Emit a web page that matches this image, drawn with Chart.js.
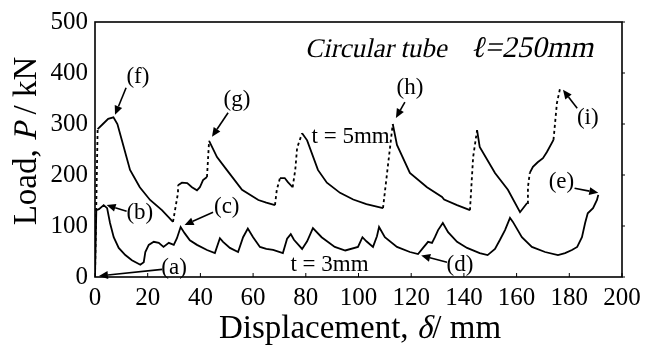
<!DOCTYPE html>
<html>
<head>
  <title>Circular tube load-displacement</title>
  <script src="https://cdn.jsdelivr.net/npm/chart.js"></script>
  <style>
    html, body { margin: 0; padding: 0; background: #fff; }
    #wrap { width: 649px; height: 347px; }
  </style>
</head>
<body>
  <div id="wrap"><canvas id="crushChart" width="649" height="347"></canvas></div>
  <script>
    // t = 5mm curve (displacement mm, load kN)
    const disp5 = [0, 1, 3, 5, 7, 8.5, 10.2, 13.3, 17, 20.9, 25.4, 29.6, 31.5, 31.5, 33, 35, 36.8, 38.7, 39.8, 41, 42.5,
      43.3, 46.3, 50, 55.8, 62, 65, 68.3, 69, 70.2, 72, 73.2, 75, 76, 76.7, 78.6, 80.5, 84.6, 88, 93, 98, 103, 109.3,
      113, 114.6, 119.5, 126, 131.7, 132.5, 137.4, 142.3, 143.5, 145, 146, 151.8, 156.7, 161.3, 164, 164.3, 165,
      166.2, 168, 170, 171.5, 174, 174.6, 175.3, 176.5];
    const load5 = [0, 290, 300, 310, 313, 300, 268, 210, 176, 151, 131, 108, 165, 180, 185, 184, 176, 170, 176, 190, 196,
      267, 235, 210, 171, 151, 146, 141, 171, 194, 194, 186, 176, 210, 253, 282, 268, 210, 185, 165, 152, 143, 135,
      300, 259, 204, 176, 157, 152, 141, 131, 235, 288, 255, 204, 171, 127, 145, 176, 204,
      216, 225, 233, 245, 269, 302, 341, 370];

    // t = 3mm curve
    const disp3 = [0, 0.5, 1.5, 3.3, 4.6, 5.7, 7.1, 9, 11.5, 14, 17.2, 18.5, 19.1, 20.4, 22.3, 24.2, 26, 28, 29.9, 31.1,
      32.5, 34, 36, 38.7, 42.5, 45.5, 47.4, 48.6, 51.2, 54.3, 56.2, 58, 60, 62.6, 65, 67.6, 71.3, 72.9, 74.3, 75.5, 78.6,
      80.5, 82.7, 86, 91, 95, 99.8, 101.5, 103, 105.5, 107, 107.8, 110, 114.6, 119.5, 122.6, 124.5, 126.4, 127.9,
      129, 130.2, 132, 134, 137.4, 141.2, 146, 149, 151.8, 153.7, 155.6, 157.5, 158.6, 162, 165.8, 170.8, 175.7,
      178.4, 181, 183, 184.8, 186, 187, 189, 190.5, 191];
    const load3 = [0, 131, 133, 141, 135, 106, 78, 57, 43, 33, 24, 29, 49, 63, 69, 67, 59, 67, 63, 76,
      98, 86, 72, 63, 53, 47, 76, 69, 57, 49, 78, 95, 78, 59, 55, 53, 47, 75, 84, 73, 55,
      70, 96, 78, 59, 52, 59, 78, 70, 59, 80, 98, 78, 59, 49, 45, 57, 69, 67,
      78, 92, 106, 88, 69, 57, 47, 43, 55, 73, 92, 116, 108, 78, 59, 49, 43,
      47, 53, 59, 78, 106, 125, 135, 151, 161];

    const xTicks = [0, 20, 40, 60, 80, 100, 120, 140, 160, 180, 200];
    const yTicks = [0, 100, 200, 300, 400, 500];

    // labels with arrows: label centre, arrow start, arrow tip (data units)
    const notes = [
      { t: '(a)', lx: 30, ly: 18, fx: 25.5, fy: 15, tx: 1.5, ty: 2 },
      { t: '(b)', lx: 17, ly: 125, fx: 12, fy: 129, tx: 4.4, ty: 141 },
      { t: '(c)', lx: 50, ly: 137, fx: 44.8, fy: 127, tx: 34, ty: 102 },
      { t: '(d)', lx: 138.5, ly: 24, fx: 133.6, fy: 29, tx: 123.8, ty: 42 },
      { t: '(e)', lx: 177, ly: 186, fx: 182, fy: 174, tx: 191, ty: 165 },
      { t: '(f)', lx: 16.3, ly: 392, fx: 11.8, fy: 371, tx: 7.6, ty: 318 },
      { t: '(g)', lx: 53.9, ly: 347, fx: 50.5, fy: 322, tx: 44.4, ty: 275 },
      { t: '(h)', lx: 119.5, ly: 370, fx: 117.6, fy: 343, tx: 114.2, ty: 312 },
      { t: '(i)', lx: 187, ly: 312, fx: 183, fy: 331, tx: 177.6, ty: 367 }
    ];

    const SERIF = '"Liberation Serif", "Times New Roman", serif';
    const SLANT = -0.22;

    function toPoints(xs, ys) {
      return xs.map((x, i) => ({ x: x, y: ys[i] }));
    }

    // italic is faked with a skew so the serif face is kept
    function slanted(ctx, text, x, y) {
      ctx.save();
      ctx.translate(x, y);
      ctx.transform(1, 0, SLANT, 1, 0, 0);
      ctx.fillText(text, 0, 0);
      ctx.restore();
    }

    // runs: [text, size, italic]
    function runsWidth(ctx, runs) {
      let w = 0;
      runs.forEach(r => { ctx.font = r[1] + 'px ' + SERIF; w += ctx.measureText(r[0]).width; });
      return w;
    }
    function drawRuns(ctx, runs, x, y) {
      let cx = x;
      runs.forEach(r => {
        ctx.font = r[1] + 'px ' + SERIF;
        if (r[2]) slanted(ctx, r[0], cx, y); else ctx.fillText(r[0], cx, y);
        cx += ctx.measureText(r[0]).width;
      });
    }

    function arrow(ctx, x1, y1, x2, y2) {
      const a = Math.atan2(y2 - y1, x2 - x1);
      const hl = 9, hw = 4;
      const bx = x2 - hl * Math.cos(a), by = y2 - hl * Math.sin(a);
      ctx.beginPath();
      ctx.moveTo(x1, y1);
      ctx.lineTo(bx, by);
      ctx.stroke();
      ctx.beginPath();
      ctx.moveTo(x2, y2);
      ctx.lineTo(bx + hw * Math.sin(a), by - hw * Math.cos(a));
      ctx.lineTo(bx - hw * Math.sin(a), by + hw * Math.cos(a));
      ctx.closePath();
      ctx.fill();
    }

    const decor = {
      id: 'decor',
      afterDraw(chart) {
        const c = chart.ctx, a = chart.chartArea;
        const xs = chart.scales.x, ys = chart.scales.y;
        c.save();
        c.strokeStyle = '#000';
        c.fillStyle = '#000';

        // frame
        c.lineWidth = 1.6;
        c.strokeRect(a.left, a.top, a.right - a.left, a.bottom - a.top);

        // inward ticks
        c.lineWidth = 1;
        xTicks.forEach(v => {
          const px = xs.getPixelForValue(v);
          c.beginPath(); c.moveTo(px, a.bottom); c.lineTo(px, a.bottom - 4); c.stroke();
        });
        yTicks.forEach(v => {
          const py = ys.getPixelForValue(v);
          c.beginPath(); c.moveTo(a.right, py); c.lineTo(a.right + 3, py); c.stroke();
        });

        // axis titles
        c.textBaseline = 'alphabetic';
        c.textAlign = 'left';
        const xt = [['Displacement, ', 33, false], ['\u03B4', 33, true], ['/ mm', 33, false]];
        drawRuns(c, xt, 360 - runsWidth(c, xt) / 2, 338);

        const yt = [['Load, ', 33, false], ['P', 33, true], [' / kN', 33, false]];
        const yw = runsWidth(c, yt);
        c.save();
        c.translate(36, 141);
        c.rotate(-Math.PI / 2);
        drawRuns(c, yt, -yw / 2, 0);
        c.restore();

        // header text
        drawRuns(c, [['Circular tube', 27, true]], xs.getPixelForValue(79.7), 57);
        drawRuns(c, [['\u2113=250mm', 30, true]], xs.getPixelForValue(142.5), 57);

        // thickness labels
        c.font = '23px ' + SERIF;
        c.textAlign = 'center';
        c.textBaseline = 'middle';
        c.fillText('t = 5mm', xs.getPixelForValue(97), ys.getPixelForValue(274));
        c.fillText('t = 3mm', xs.getPixelForValue(89), ys.getPixelForValue(24));

        // lettered markers
        c.lineWidth = 1.6;
        notes.forEach(n => {
          c.fillText(n.t, xs.getPixelForValue(n.lx), ys.getPixelForValue(n.ly));
          arrow(c, xs.getPixelForValue(n.fx), ys.getPixelForValue(n.fy),
            xs.getPixelForValue(n.tx), ys.getPixelForValue(n.ty));
        });
        c.restore();
      }
    };

    const ctx = document.getElementById('crushChart').getContext('2d');
    const crushChart = new Chart(ctx, {
      type: 'scatter',
      data: {
        datasets: [
          {
            label: 't = 5mm',
            data: toPoints(disp5, load5),
            showLine: true,
            borderColor: '#000',
            borderWidth: 1.8,
            pointRadius: 0,
            tension: 0,
            segment: {
              // steep rising jumps are dotted in the original
              borderDash: s => {
                const dx = s.p1.parsed.x - s.p0.parsed.x;
                const dy = s.p1.parsed.y - s.p0.parsed.y;
                return (dy > 0 && (dx <= 0 || dy / dx > 14)) ? [3, 3] : undefined;
              }
            }
          },
          {
            label: 't = 3mm',
            data: toPoints(disp3, load3),
            showLine: true,
            borderColor: '#000',
            borderWidth: 1.8,
            pointRadius: 0,
            tension: 0
          }
        ]
      },
      options: {
        responsive: false,
        animation: false,
        layout: { padding: { top: 22, right: 27, bottom: 0, left: 0 } },
        plugins: { legend: { display: false }, tooltip: { enabled: false } },
        scales: {
          x: {
            type: 'linear',
            min: 0, max: 200,
            afterFit: s => { s.height = 70; },
            afterBuildTicks: s => { s.ticks = xTicks.map(v => ({ value: v })); },
            grid: { display: false, drawTicks: false },
            border: { display: false },
            ticks: { color: '#000', padding: 6, maxRotation: 0, font: { family: SERIF, size: 25 } }
          },
          y: {
            type: 'linear',
            min: 0, max: 500,
            afterFit: s => { s.width = 95; },
            afterBuildTicks: s => { s.ticks = yTicks.map(v => ({ value: v })); },
            grid: { display: false, drawTicks: false },
            border: { display: false },
            ticks: { color: '#000', padding: 7, font: { family: SERIF, size: 25 } }
          }
        }
      },
      plugins: [decor]
    });
  </script>
</body>
</html>
